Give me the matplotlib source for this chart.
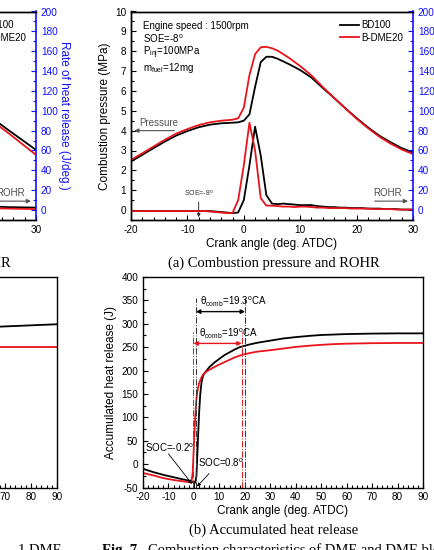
import numpy as np
import matplotlib
matplotlib.use('Agg')
import matplotlib.pyplot as plt
from matplotlib.ticker import MultipleLocator

plt.rcParams['font.family'] = ['Liberation Sans', 'DejaVu Sans']
plt.rcParams['axes.linewidth'] = 1.0
plt.rcParams['axes.unicode_minus'] = False

# ---- (a) combustion pressure (MPa) ----
crank_p = [-20, -18, -16, -14, -12, -10, -8, -6, -4, -2, -1, 0, 1, 2, 3, 4, 5, 6,
           8, 10, 12, 14, 16, 18, 20, 22, 24, 26, 28, 30]
p_bd100 = [2.45, 2.78, 3.12, 3.45, 3.75, 3.98, 4.17, 4.30, 4.37, 4.40, 4.42, 4.50,
           4.82, 6.20, 7.45, 7.72, 7.72, 7.62, 7.35, 7.05, 6.67, 6.15, 5.65, 5.13,
           4.63, 4.17, 3.75, 3.42, 3.12, 2.90]
p_dme20 = [2.52, 2.86, 3.20, 3.54, 3.85, 4.08, 4.28, 4.42, 4.50, 4.55, 4.62, 5.15,
           6.80, 7.85, 8.20, 8.22, 8.15, 8.03, 7.67, 7.25, 6.78, 6.20, 5.65, 5.12,
           4.60, 4.13, 3.70, 3.35, 3.05, 2.82]

# ---- (a) rate of heat release (J/deg.) ----
crank_r = [-20, -19, -18, -17, -16, -15, -14, -13, -12, -11, -10, -9, -8, -7,
           -6, -5, -4, -3, -2, -1, 0, 1, 2, 3, 4, 5, 6, 7, 8, 9, 10,
           11, 12, 13, 14, 15, 16, 17, 18, 19, 20,
           21, 22, 23, 24, 25, 26, 27, 28, 29, 30]
rohr_bd100 = [-1, -1, -1, -1, -1, -1, -1, -1, -1, -1, -1, -1, -1, -1,
              -1, -1.5, -2, -2.5, -3, -2.5, 10, 45, 84, 55, 15, 6.5, 6, 6.5, 6, 5.5, 5,
              5, 5, 4, 3.5, 3, 3, 2.5, 2.5, 2, 2,
              2, 1.5, 1.5, 1.5, 1, 1, 1, 0.5, 0.5, 0.5]
rohr_dme20 = [-1, -1, -1, -1, -1, -1, -1, -1, -1, -1, -1, -1, -1, -1,
              -1.5, -2, -2.5, -3, -3, 10, 45, 88, 60, 12, 4.5, 4.5, 4, 3.5, 3.5, 3, 3.5,
              3.5, 3, 2.5, 2.5, 2, 2, 2, 2, 1.5, 1.5,
              1.5, 1.5, 1, 1, 1, 1, 0.5, 0.5, 0.5, 0.5]

# ---- (b) accumulated heat release (J) ----
crank_a_bd = [-20, -16, -12, -8, -4, -2, -1, 0, 0.5, 1, 1.5, 2, 2.5, 3, 3.5, 4, 5, 6, 7,
              8, 10, 12, 14, 16, 18, 20, 22, 25, 30, 35, 40, 45, 50, 55, 60, 70, 80, 90]
ahr_bd100 = [-10, -17, -23, -28, -33, -35, -37, -39, -40, -25, 40, 105, 150, 175, 187,
             193, 200, 207, 212, 217, 225, 233, 239, 245, 250, 253, 256, 259.5, 264,
             268.5, 271.5, 274, 276, 277, 278, 279, 279.5, 279.5]
crank_a_dme = [-20, -16, -12, -8, -4, -2, -1, -0.5, 0, 0.5, 1, 1.5, 2, 3, 4, 5, 6, 7,
               8, 10, 12, 14, 16, 18, 20, 22, 25, 30, 35, 40, 45, 50, 55, 60, 70, 80, 90]
ahr_dme20 = [-19, -24, -30, -34, -37, -38.5, -40, -20, 40, 100, 140, 160, 172, 186,
             194, 198, 201.5, 204.5, 207.5, 213, 218, 223, 228, 232, 235, 237.5, 240.5,
             243.5, 247, 250.5, 253, 255, 256.5, 257.5, 258.5, 259, 259]

soc_bd100, soc_dme20 = 0.8, -0.2
comb_bd100, comb_dme20 = 19.3, 19.0

# ---- neighbouring (cropped) figure, only the tails are visible ----
crank_p2 = [20, 25, 30]
p2_bd100 = [5.10, 4.05, 3.03]
p2_dme20 = [4.95, 3.90, 2.78]
rohr2_bd100 = [4, 3, 2.5]
rohr2_dme20 = [2, 1.5, 1]
crank_a2 = [60, 90]
ahr2_bd100 = [292, 299]
ahr2_dme20 = [251, 251]

RED = '#e8141b'
BLUE = '#1010ff'
GREY = '#505050'
LW = 1.3
TS = 7.2   # tick label size
LS = 8.5   # axis label size

W, H = 434, 550
fig = plt.figure(figsize=(W / 100, H / 100), dpi=100)


def box(l, t, r, b):
    return [l / W, 1 - b / H, (r - l) / W, (b - t) / H]


def style_a(ax, ax2):
    ax.set_xlim(-20, 30)
    ax.set_ylim(-0.5, 10)
    ax2.set_ylim(-10, 200)
    ax.xaxis.set_major_locator(MultipleLocator(10))
    ax.xaxis.set_minor_locator(MultipleLocator(2))
    ax.yaxis.set_major_locator(MultipleLocator(1))
    ax.yaxis.set_minor_locator(MultipleLocator(0.5))
    ax2.yaxis.set_major_locator(MultipleLocator(20))
    ax2.yaxis.set_minor_locator(MultipleLocator(10))
    ax.tick_params(which='both', direction='in', top=False, right=False, labelsize=TS)
    ax.tick_params(which='major', length=3.5, width=0.8)
    ax.tick_params(which='minor', length=2, width=0.8)
    ax2.tick_params(which='both', direction='in', colors=BLUE, labelsize=TS)
    ax2.tick_params(which='major', length=3.5, width=0.8)
    ax2.tick_params(which='minor', length=2, width=0.8)
    ax.spines['right'].set_visible(False)
    ax2.spines['right'].set_color(BLUE)
    ax2.spines['right'].set_linewidth(1.2)
    ax.set_xlabel('Crank angle (deg. ATDC)', fontsize=LS, labelpad=2)
    ax.set_ylabel('Combustion pressure (MPa)', fontsize=LS, labelpad=3)
    ax2.set_ylabel('Rate of heat release (J/deg.)', fontsize=LS, color=BLUE,
                   rotation=270, labelpad=9)
    ax.legend(loc='upper right', bbox_to_anchor=(0.985, 0.985), frameon=False,
              fontsize=7, handlelength=2.0, handletextpad=0.2, labelspacing=0.25,
              borderaxespad=0.2)
    # ROHR label + arrow
    ax.text(22.9, 0.85, 'ROHR', color=GREY, fontsize=7, va='center')
    ax.annotate('', xy=(29.6, 0.45), xytext=(22.7, 0.45),
                arrowprops=dict(arrowstyle='-|>', color=GREY, lw=0.8, mutation_scale=6))


def style_b(ax):
    ax.set_xlim(-20, 90)
    ax.set_ylim(-50, 400)
    ax.xaxis.set_major_locator(MultipleLocator(10))
    ax.xaxis.set_minor_locator(MultipleLocator(2))
    ax.yaxis.set_major_locator(MultipleLocator(50))
    ax.yaxis.set_minor_locator(MultipleLocator(25))
    ax.tick_params(which='both', direction='in', top=False, right=False, labelsize=TS)
    ax.tick_params(which='major', length=3.5, width=0.8)
    ax.tick_params(which='minor', length=2, width=0.8)
    ax.set_xlabel('Crank angle (deg. ATDC)', fontsize=LS, labelpad=2)
    ax.set_ylabel('Accumulated heat release (J)', fontsize=LS, labelpad=3)


# ---------- panel (a) ----------
axA = fig.add_axes(box(131, 11.5, 413, 220))
axA2 = axA.twinx()
axA.plot(crank_p, p_bd100, color='k', lw=LW, label='BD100')
axA.plot(crank_p, p_dme20, color=RED, lw=LW, label='B-DME20')
axA2.plot(crank_r, rohr_bd100, color='k', lw=LW)
axA2.plot(crank_r, rohr_dme20, color=RED, lw=LW)
style_a(axA, axA2)

axA.text(-17.9, 9.28, 'Engine speed : 1500rpm', fontsize=7, va='center')
axA.text(-17.9, 8.62, 'SOE=-8$^{\\mathregular{o}}$', fontsize=7, va='center')
axA.text(-17.9, 7.92, 'P$_{\\mathregular{inj}}$=100MPa', fontsize=7, va='center')
axA.text(-17.9, 7.14, 'm$_{\\mathregular{fuel}}$=12mg', fontsize=7, va='center')
axA.text(-18.6, 4.37, 'Pressure', color=GREY, fontsize=7, va='center')
axA.annotate('', xy=(-19.9, 4.0), xytext=(-11.8, 4.0),
             arrowprops=dict(arrowstyle='-|>', color=GREY, lw=0.8, mutation_scale=6))
axA.text(-8, 0.85, 'SOE=-8$^{\\mathregular{o}}$', fontsize=5, ha='center', va='center',
         color='#333333')
axA.annotate('', xy=(-8, -0.5), xytext=(-8, 0.55),
             arrowprops=dict(arrowstyle='-|>', color='#333333', lw=0.7, mutation_scale=5))

# ---------- cropped neighbour, top ----------
axL = fig.add_axes(box(36 - 282, 11.5, 36, 220))
axL2 = axL.twinx()
axL.plot(crank_p2, p2_bd100, color='k', lw=LW, label='BD100')
axL.plot(crank_p2, p2_dme20, color=RED, lw=LW, label='B-DME20')
axL2.plot(crank_p2, rohr2_bd100, color='k', lw=LW)
axL2.plot(crank_p2, rohr2_dme20, color=RED, lw=LW)
style_a(axL, axL2)

# ---------- panel (b) ----------
axB = fig.add_axes(box(143, 277, 423, 487.5))
axB.plot(crank_a_bd, ahr_bd100, color='k', lw=LW)
axB.plot(crank_a_dme, ahr_dme20, color=RED, lw=LW)
style_b(axB)

end_bd = soc_bd100 + comb_bd100
end_dme = soc_dme20 + comb_dme20
for xv in (soc_bd100, end_bd):
    axB.plot([xv, xv], [-50, 355], color='#333333', lw=0.7, ls='-.')
for xv in (soc_dme20, end_dme):
    axB.plot([xv, xv], [-50, 282], color=RED, lw=0.7, ls='-.')
axB.annotate('', xy=(end_bd, 326), xytext=(soc_bd100, 326),
             arrowprops=dict(arrowstyle='<|-|>', color='k', lw=1.0, mutation_scale=6,
                             shrinkA=0, shrinkB=0))
axB.annotate('', xy=(end_dme, 258), xytext=(soc_dme20, 258),
             arrowprops=dict(arrowstyle='<|-|>', color=RED, lw=1.0, mutation_scale=6,
                             shrinkA=0, shrinkB=0))
axB.text(2.4, 346, '\u03b8$_{\\mathregular{comb}}$=19.3$^{\\mathregular{o}}$CA',
         fontsize=7, va='center')
axB.text(2.0, 279, '\u03b8$_{\\mathregular{comb}}$=19$^{\\mathregular{o}}$CA',
         fontsize=7, va='center')
axB.text(-19.3, 34, 'SOC=-0.2$^{\\mathregular{o}}$', fontsize=7, va='center')
axB.annotate('', xy=(-0.8, -42), xytext=(-10, 22),
             arrowprops=dict(arrowstyle='-|>', color='k', lw=0.6, mutation_scale=5,
                             shrinkA=0, shrinkB=0))
axB.text(1.8, 2, 'SOC=0.8$^{\\mathregular{o}}$', fontsize=7, va='center')
axB.annotate('', xy=(1.2, -48), xytext=(6, -20),
             arrowprops=dict(arrowstyle='-|>', color='k', lw=0.6, mutation_scale=5,
                             shrinkA=0, shrinkB=0))

# ---------- cropped neighbour, bottom ----------
axLB = fig.add_axes(box(57 - 286, 277, 57, 487.5))
axLB.plot(crank_a2, ahr2_bd100, color='k', lw=LW)
axLB.plot(crank_a2, ahr2_dme20, color=RED, lw=LW)
style_b(axLB)

# ---------- captions ----------
serif = dict(family=['Liberation Serif', 'DejaVu Serif'], fontsize=10.5)
fig.text(274 / W, 1 - 263 / H, '(a) Combustion pressure and ROHR', ha='center',
         va='center', **serif)
fig.text(11 / W, 1 - 263 / H, '(a) Combustion pressure and ROHR', ha='right',
         va='center', **serif)
fig.text(274 / W, 1 - 530 / H, '(b) Accumulated heat release', ha='center',
         va='center', **serif)
fig.text(102 / W, 1 - 554 / H, 'Fig. 7', ha='left', va='baseline', weight='bold',
         **serif)
fig.text(148 / W, 1 - 554 / H, 'Combustion characteristics of DME and DME blended fuel',
         ha='left', va='baseline', **serif)
fig.text(18 / W, 1 - 554 / H, '1 DME', ha='left', va='baseline', **serif)

fig.savefig('out.png', dpi=100)
